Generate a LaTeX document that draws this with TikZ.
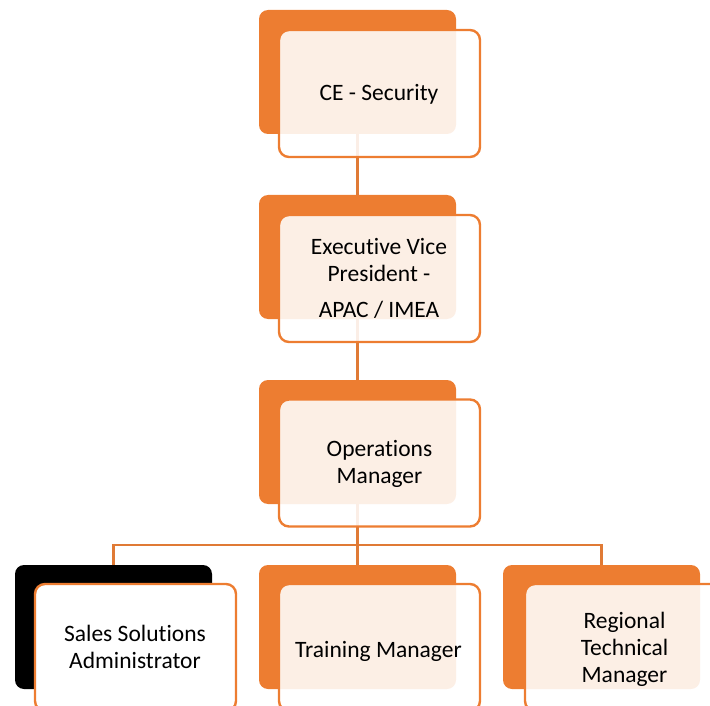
\documentclass[tikz,border=0pt]{standalone}
\usepackage{fontspec}
\setmainfont{Carlito}[Ligatures=NoCommon]
\definecolor{accent}{HTML}{ED7D31}
\definecolor{linkc}{HTML}{E07A35}
\begin{document}
\begin{tikzpicture}[x=1pt,y=-1pt,
  backbox/.style={rectangle, fill=accent, rounded corners=9pt, inner sep=0pt, outer sep=0pt,
    minimum width=197pt, minimum height=124pt},
  darkbox/.style={backbox, fill=black},
  frontbox/.style={rectangle, draw=accent, line width=2.4pt, fill=white, fill opacity=0.88,
    rounded corners=10pt, inner sep=0pt, outer sep=0pt, minimum width=201pt, minimum height=127pt},
  solidfront/.style={frontbox, fill opacity=1},
  label/.style={anchor=base, align=center, inner sep=0pt, text=black,
    font=\fontsize{23.5pt}{27pt}\selectfont},
  link/.style={draw=linkc, line width=2.6pt}
]
\useasboundingbox (0,0) rectangle (710,706);
\clip (0,0) rectangle (710,706);

% back plates
\node[backbox] (b1) at (357.5,72) {};
\node[backbox] (b2) at (357.5,257) {};
\node[backbox] (b3) at (357.5,442) {};
\node[darkbox] (b4) at (113.5,627) {};
\node[backbox] (b5) at (357.5,627) {};
\node[backbox] (b6) at (601.5,627) {};

% connectors, kept under the front panels
\coordinate (bus) at (357.5,545);
\draw[link] (b1.south) -- (b2.north);
\draw[link] (b2.south) -- (b3.north);
\draw[link] (b3.south) -- (b5.north);
\draw[link] (b4.north) -- (b4.north |- bus) -- (b6.north |- bus) -- (b6.north);

% front panels
\node[frontbox] (f1) at (379.5,93.5) {};
\node[frontbox] (f2) at (379.5,278.5) {};
\node[frontbox] (f3) at (379.5,463) {};
\node[solidfront] (f4) at (135.5,647.5) {};
\node[frontbox] (f5) at (379.5,647.5) {};
\node[frontbox] (f6) at (625.5,647.5) {};

% titles (base anchor sits on the last line)
\node[label] (t1) at (379,101) {CE - Security};
\node[label] (t2) at (379,317) {Executive Vice\\President -\\[9pt]APAC / IMEA};
\node[label] (t3) at (379.5,483) {Operations\\Manager};
\node[label] (t4) at (135,668) {Sales Solutions\\Administrator};
\node[label] (t5) at (378.5,657) {Training Manager};
\node[label] (t6) at (624.5,682) {Regional\\Technical\\Manager};
\end{tikzpicture}
\end{document}
